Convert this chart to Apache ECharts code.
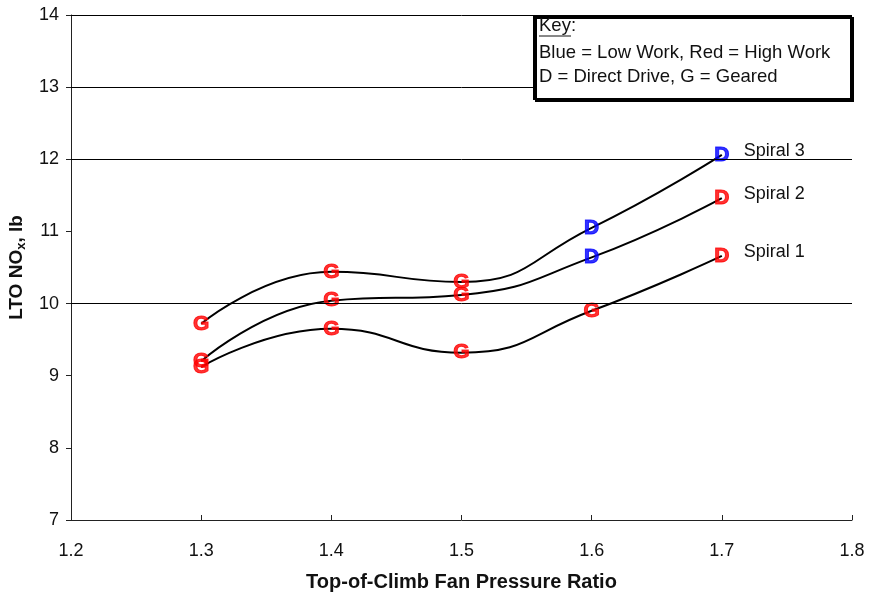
<!DOCTYPE html>
<html>
<head>
<meta charset="utf-8">
<script src="https://cdn.jsdelivr.net/npm/echarts@6/dist/echarts.min.js"></script>
<style>
  html, body { margin: 0; padding: 0; background: #fff; }
  #chart { width: 873px; height: 596px; }
</style>
</head>
<body>
<div id="chart"></div>
<script>
  // fan pressure ratio positions
  var fpr = [1.3, 1.4, 1.5, 1.6, 1.7]
  // LTO NOx, lb
  var spiral1 = [9.12, 9.65, 9.32, 9.9, 10.66]
  var spiral2 = [9.2, 10.04, 10.12, 10.64, 11.46]
  var spiral3 = [9.72, 10.44, 10.3, 11.05, 12.06]
  // D = direct drive, G = geared
  var drive1 = ['G', 'G', 'G', 'G', 'D']
  var drive2 = ['G', 'G', 'G', 'D', 'D']
  var drive3 = ['G', 'G', 'G', 'D', 'D']
  // Low / High work
  var work1 = ['High', 'High', 'High', 'High', 'High']
  var work2 = ['High', 'High', 'High', 'Low', 'High']
  var work3 = ['High', 'High', 'High', 'Low', 'Low']
  var spiralNames = ['Spiral 1', 'Spiral 2', 'Spiral 3']
  var gridValues = [10, 12, 13, 14]
  var yTicks = [7, 8, 9, 10, 11, 12, 13, 14]
  var xTicks = [1.2, 1.3, 1.4, 1.5, 1.6, 1.7, 1.8]

  var workColor = { Low: '#0000ff', High: '#ff0000' }
  var font = 'Arial, "Liberation Sans", sans-serif'

  function curve(name, ys) {
    return {
      name: name,
      type: 'line',
      smooth: 0.5,
      symbol: 'none',
      z: 3,
      lineStyle: { color: '#000', width: 2 },
      data: ys.map(function (y, i) { return [fpr[i], y] }),
      endLabel: {
        show: true,
        formatter: name,
        color: '#111',
        fontSize: 18,
        fontFamily: font,
        distance: 17,
        offset: [0, -4],
        backgroundColor: '#fff',
        padding: [2, 24, 2, 5]
      }
    }
  }

  function markers(ys, drives, works) {
    return {
      type: 'scatter',
      symbolSize: 2,
      itemStyle: { color: 'rgba(0,0,0,0)' },
      z: 4,
      labelLayout: { hideOverlap: false },
      data: ys.map(function (y, i) {
        var c = workColor[works[i]]
        return {
          value: [fpr[i], y],
          label: {
            show: true,
            position: 'inside',
            offset: [2, 1],
            formatter: drives[i],
            color: c,
            textBorderColor: c,
            textBorderWidth: 1,
            fontSize: 21,
            fontWeight: 'bold',
            fontFamily: font
          }
        }
      })
    }
  }

  var chart = echarts.init(document.getElementById('chart'))
  chart.setOption({
    animation: false,
    backgroundColor: '#fff',
    grid: { left: 71, right: 21, top: 15, bottom: 76, containLabel: false, outerBoundsMode: 'none' },
    xAxis: {
      type: 'value',
      min: xTicks[0],
      max: xTicks[xTicks.length - 1],
      interval: 0.1,
      name: 'Top-of-Climb Fan Pressure Ratio',
      nameLocation: 'middle',
      nameGap: 52,
      nameTextStyle: { fontSize: 20, fontWeight: 'bold', color: '#111', fontFamily: font },
      axisLine: { lineStyle: { color: '#222', width: 1 } },
      axisTick: { inside: true, length: 5, lineStyle: { color: '#222' } },
      axisLabel: {
        color: '#111', fontSize: 18, fontFamily: font, margin: 22,
        formatter: function (v) { return v.toFixed(1) }
      },
      splitLine: { show: false }
    },
    yAxis: {
      type: 'value',
      min: yTicks[0],
      max: yTicks[yTicks.length - 1],
      interval: 1,
      name: '{a|LTO NO}{s|x}{a|, lb}',
      nameLocation: 'middle',
      nameGap: 43,
      nameRotate: 90,
      nameTextStyle: {
        rich: {
          a: { fontSize: 19, fontWeight: 'bold', color: '#111', fontFamily: font },
          s: { fontSize: 13, fontWeight: 'bold', color: '#111', fontFamily: font, padding: [9, 0, 0, 0] }
        }
      },
      axisLine: { show: true, lineStyle: { color: '#222', width: 1 } },
      axisTick: { show: true, length: 5, lineStyle: { color: '#222' } },
      axisLabel: { color: '#111', fontSize: 18, fontFamily: font, margin: 12 },
      splitLine: { show: false }
    },
    graphic: {
      elements: [
        {
          type: 'rect', z: 100,
          shape: { x: 534, y: 16, width: 317, height: 83 },
          style: { fill: '#fff', stroke: '#000', lineWidth: 2, shadowColor: '#000', shadowOffsetX: 2, shadowOffsetY: 2, shadowBlur: 0 }
        },
        {
          type: 'text', z: 101, x: 539, y: 26,
          style: { text: 'Key:', fill: '#111', font: '18.5px ' + font, verticalAlign: 'middle' }
        },
        {
          type: 'line', z: 101,
          shape: { x1: 539, y1: 36, x2: 571, y2: 36 },
          style: { stroke: '#111', lineWidth: 1 }
        },
        {
          type: 'text', z: 101, x: 539, y: 53,
          style: { text: 'Blue = Low Work, Red = High Work', fill: '#111', font: '18.5px ' + font, verticalAlign: 'middle' }
        },
        {
          type: 'text', z: 101, x: 539, y: 77,
          style: { text: 'D = Direct Drive, G = Geared', fill: '#111', font: '18.5px ' + font, verticalAlign: 'middle' }
        }
      ]
    },
    series: [
      {
        type: 'line',
        data: [],
        z: 1,
        markLine: {
          silent: true,
          symbol: 'none',
          label: { show: false },
          lineStyle: { color: '#000', width: 1, type: 'solid' },
          data: gridValues.map(function (v) { return { yAxis: v } })
        }
      },
      curve(spiralNames[0], spiral1),
      curve(spiralNames[1], spiral2),
      curve(spiralNames[2], spiral3),
      markers(spiral1, drive1, work1),
      markers(spiral2, drive2, work2),
      markers(spiral3, drive3, work3)
    ]
  })
</script>
</body>
</html>
